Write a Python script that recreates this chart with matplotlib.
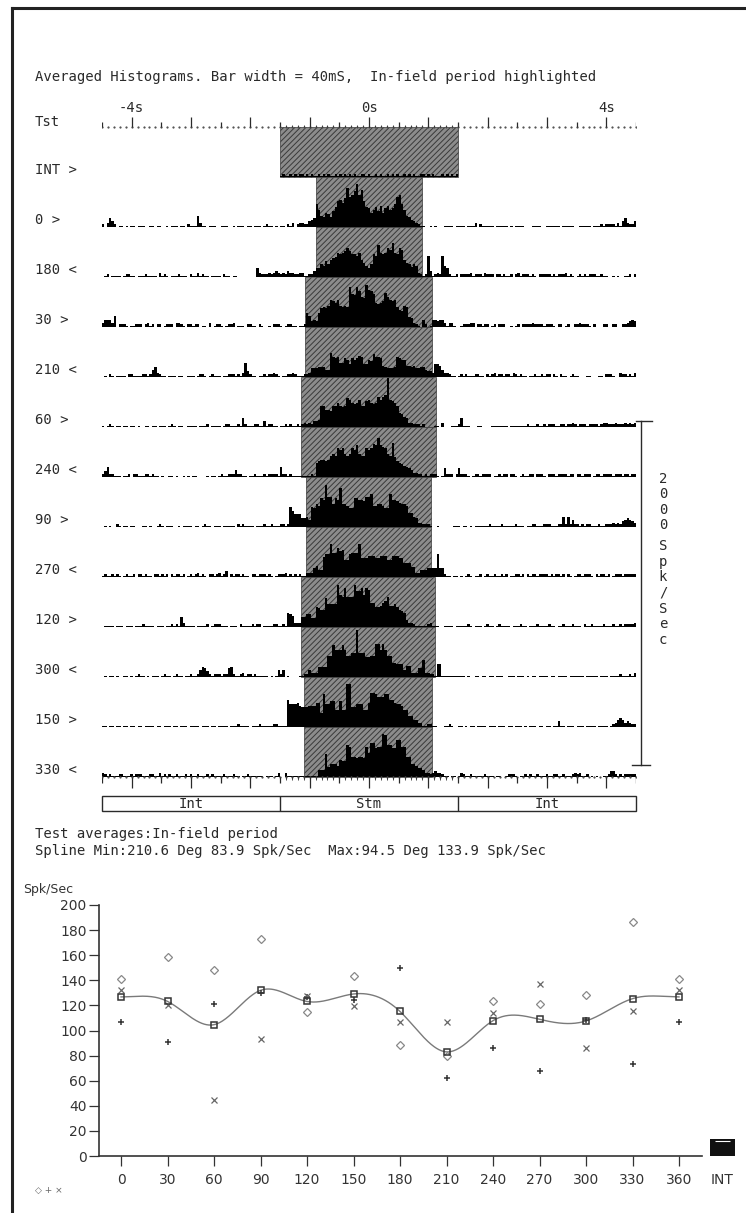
import numpy as np
import matplotlib
matplotlib.use('Agg')
import matplotlib.pyplot as plt
import matplotlib.transforms as mtransforms
from matplotlib.patches import Rectangle
from matplotlib.lines import Line2D

# ---- histogram data: one char per 40 ms bin (base 36 count), 1 count = 25/3 Spk/Sec
row_labels = ["INT >", "0 >", "180 <", "30 >", "210 <", "60 >", "240 <",
              "90 >", "270 <", "120 >", "300 <", "150 >", "330 <"]
win_start = [-1.5, -0.89, -0.89, -1.08, -1.08, -1.15, -1.15, -1.06, -1.06, -1.15, -1.15, -1.09, -1.09]
win_end = [1.5, 0.89, 0.89, 1.07, 1.07, 1.13, 1.13, 1.05, 1.05, 1.11, 1.11, 1.06, 1.06]

hist_int = ("0" * 75 +
            "1211212122" "1212112121" "2112121212" "1211221211" "2121121212"
            "1121212112" "2121211121" "21212" + "0" * 75)
hist_0 = ("2036420110" "1011011100" "1101100101" "1101102111" "8311011100"
          "1110010111" "0110111012" "1101011021" "3023322"
          "456gc87a97beijhkrlmpumqiedacebfadfcdglmgc87543211"
          "0010100011" "1101111011" "1302111110" "1111101011" "1100011110"
          "0111111011" "1110011111" "0111212222" "131463224")
hist_180 = ("0120111101" "2211011121" "1110312101" "1121110211" "3121101111"
            "0211011000" "0000063222" "3234323243" "32233"
            "112246698b" "9cdehghiki" "ggfhca869g" "fmhghkjohg" "kjca979832"
            "12f41232f8" "621120"
            "2222312221" "3222022121" "1202312221" "2102222212" "1222312101"
            "2121222112" "1100101001" "1202")
hist_30 = ("3555380222" "1011222023" "1202201222" "0332102212" "2011030122"
           "1012230111" "0221102100" "1022210122" "1101"
           "12a8454ade" "dfjihjfefe" "snmsplktqp" "nhghioljij" "ecbfe76321"
           "0520155455" "3133100"
           "1222330221" "2201202220" "0101202222" "3222212221" "0220120022"
           "3222102000" "2200220022" "3454")
hist_210 = ("0102101111" "0221111221" "2573211011" "1011001110" "1221012111"
            "0112221213" "a421101121" "2232101122" "3211122"
            "366677755h" "edeaadc9dc" "dfe99cbgee" "d876667edc" "c887866775"
            "4439985332" "1101"
            "2121112211" "0212312212" "2132121101" "1211212202" "1021101211"
            "0001100011" "0222100322" "1213")
hist_60 = ("1012101101" "1011010011" "0110111012" "1011001111" "0111201111"
           "0122111216" "2111221141" "2211011212" "112"
           "123232445f" "fccbffhfef" "kjhghjffij" "hghljlmyji" "hfa9763322"
           "2120000110" "3000111261" "1100"
           "0110000111" "1111011111" "1121112112" "1222112212" "2321222122"
           "2212332223" "22232323")
hist_240 = ("2472211101" "1202211122" "1211010011" "0100101011" "0000101101"
            "2112225221" "1011211121" "2222172212" "111"
            "1111121abc" "cbcfgfkjkg" "fgkjmgffkj" "knmrmlkgfo" "eba9876533"
            "2212122210" "1622202622" "2101"
            "2212222011" "2122022101" "2112202221" "0222122221" "2202212220"
            "1221222212" "22122122")
hist_90 = ("0101002101" "1011000110" "1001210111" "0010111101" "1012110111"
           "0111110212" "1111011121" "1211122"
           "12eb999667" "5edgfkjtll" "gkjrggfddk" "kjjillnffg" "gfddnjjihg"
           "gfaa763322" "2100100000" "0111"
           "0110101111" "1121111211" "1112111011" "2211122211" "1227272522"
           "1212211121" "1222323245" "6543")
hist_270 = ("1211212101" "2112022121" "1022121202" "1221201212" "3121022123"
            "1240212212" "1102212221" "2101222312" "1212"
            "113336855e" "ggnhhkijcc" "ghhhndddff" "fddfffccff" "fddaaa7733"
            "5556666g66" "2110110"
            "1012101120" "1211211212" "0112212021" "2212222121" "2212021012"
            "2122210212" "2120122212" "2222")
hist_120 = ("0111101110" "1110111211" "1101110112" "1217311110" "1111201222"
            "1110111021" "1112122011" "1122112"
            "1a98333779" "966edcckgg" "ggtmlrlllt" "pprmrqhhee" "fhilffgecb"
            "a533211111" "2311100111" "1011"
            "1112101110" "1211012111" "1011121101" "1121111211" "0112111211"
            "1021121111" "2111211212" "2223")
hist_300 = ("0101101001" "1010121101" "0111012110" "1211011211" "2576421222"
            "1226721123" "1221211111" "0101525010" "0001"
            "1225333777" "7ffmjjjmjf" "fhhxhhheef" "fnnjnjffaa" "9995883336"
            "6c33221991" "1111111"
            "1101001101" "1011011100" "1110111010" "1101111011" "0111101111"
            "1101111101" "1101111211" "1213")
hist_150 = ("1101101101" "1011011011" "1101101110" "1101110111" "1011101101"
            "1110111211" "1101112111" "112211"
            "11jggghfee" "efffhhangg" "iicciccuue" "egggcchoon" "lllnnjjhgg"
            "fcc8855331" "1221100011" "21001"
            "1010110111" "1011101110" "1101110101" "1101101101" "1411011101"
            "1101111011" "1101235653" "4322")
hist_330 = ("3212111221" "1121222111" "2211312121" "1211121211" "2111212111"
            "1211121101" "1211111101" "1101300311" "1111"
            "1111111555" "g79998cbbm" "leedeedlho" "okllutmmkk" "qqllee9986"
            "6533234332" "1101101"
            "3211211111" "2111011001" "2221011212" "1121112112" "2112111232"
            "3112010100" "1124421212" "2222")
hist_rows = [hist_int, hist_0, hist_180, hist_30, hist_210, hist_60, hist_240,
             hist_90, hist_270, hist_120, hist_300, hist_150, hist_330]

# ---- tuning data (Spk/Sec)
orient = [0, 30, 60, 90, 120, 150, 180, 210, 240, 270, 300, 330, 360]
diamond = [141.3, 158.3, 148.5, 173.2, 114.7, 143.2, 88.7, 80.0, 123.5, 121.4, 128.3, 186.7, 141.3]
plus = [107.0, 90.6, 121.0, 129.6, 127.0, 124.3, 149.8, 62.4, 85.8, 68.0, 108.7, 73.6, 107.0]
cross = [132.0, 120.7, 44.4, 93.2, 127.7, 119.8, 107.0, 106.5, 114.2, 137.3, 85.8, 115.8, 132.0]
int_rate = 13.5
y_ticks = [0, 20, 40, 60, 80, 100, 120, 140, 160, 180, 200]

plt.rcParams['hatch.linewidth'] = 0.7
plt.rcParams['hatch.color'] = '#3a3a3a'

W, H = 746, 1213
fig = plt.figure(figsize=(W / 100, H / 100), dpi=100)
mono = 'DejaVu Sans Mono'
ink = '#2a2a2a'


def rect(x0, y0, x1, y1):
    return [x0 / W, 1 - y1 / H, (x1 - x0) / W, (y1 - y0) / H]


# frame
fig.add_artist(Line2D([12 / W, 12 / W], [0, 1 - 8 / H], color='#222222', lw=2.2))
fig.add_artist(Line2D([12 / W, 1], [1 - 8 / H, 1 - 8 / H], color='#222222', lw=2.2))

fig.text(35 / W, 1 - 77 / H, "Averaged Histograms. Bar width = 40mS,  In-field period highlighted",
         family=mono, fontsize=10, va='center', color=ink)

# ---- histogram panel: y in Spk/Sec, 344 px = 2000 Spk/Sec
PX = 2000 / 344
ROW_GAP = 50 * PX
ax = fig.add_axes(rect(102, 100, 636, 820))
ax.set_xlim(-4.5, 4.5)
ax.set_ylim(-43 * PX, 677 * PX)
ax.axis('off')
blend = mtransforms.blended_transform_factory(fig.transFigure, ax.transData)

n_rows = len(hist_rows)
edges = -4.5 + 0.04 * np.arange(226)
for j, s in enumerate(hist_rows):
    s = s.ljust(225, '0')[:225]
    base = (n_rows - 1 - j) * ROW_GAP
    vals = np.array([int(ch, 36) for ch in s]) * 25 / 3
    ax.add_patch(Rectangle((win_start[j], base), win_end[j] - win_start[j], ROW_GAP,
                           facecolor='#8c8c8c', edgecolor='#3a3a3a', hatch='//////',
                           lw=0.5, zorder=1))
    ax.stairs(base + vals, edges, baseline=base, fill=True, color='black', lw=0, zorder=2)
    ax.text(35 / W, base + 7 * PX, row_labels[j], transform=blend, family=mono,
            fontsize=10, va='center', color=ink)

# top time axis
y_top = n_rows * ROW_GAP
ax.text(35 / W, y_top + 5 * PX, "Tst", transform=blend, family=mono, fontsize=10,
        va='center', color=ink)
dots = np.arange(-45, 46) / 10
ax.plot(dots, np.full(dots.size, y_top), ls='none', marker='s', ms=0.6, color='#555555')
major = np.arange(-4, 5)
minor = np.arange(-4.5, 4.6, 1.0)
ax.vlines(major, y_top, y_top + 10 * PX, color=ink, lw=0.9)
ax.vlines(minor, y_top, y_top + 5 * PX, color=ink, lw=0.9)
fine = np.arange(-14, 15) / 10
ax.vlines(fine, y_top, y_top + 2.5 * PX, color=ink, lw=0.6)
for t, lab in [(-4, "-4s"), (0, "0s"), (4, "4s")]:
    ax.text(t, y_top + 19 * PX, lab, ha='center', va='center', family=mono,
            fontsize=10, color=ink)

# bottom time axis
ax.plot(dots, np.zeros(dots.size), ls='none', marker='s', ms=0.6, color='#555555')
ax.vlines(major, 0, -11 * PX, color=ink, lw=0.9)
ax.vlines(minor, 0, -6 * PX, color=ink, lw=0.9)
ax.vlines(fine, 0, -3 * PX, color=ink, lw=0.6)
box_top, box_bot = -19 * PX, -34 * PX
ax.add_patch(Rectangle((-4.5, box_bot), 9, box_top - box_bot, fill=False,
                       edgecolor=ink, lw=1, clip_on=False))
ax.vlines([-1.5, 1.5], box_bot, box_top, color=ink, lw=1)
for t, lab in [(-3, "Int"), (0, "Stm"), (3, "Int")]:
    ax.text(t, (box_top + box_bot) / 2, lab, ha='center', va='center', family=mono,
            fontsize=10, color=ink)

# scale bar 2000 Spk/Sec
sb_x, sb_y0 = 4.585, 12 * PX
ax.plot([sb_x, sb_x], [sb_y0, sb_y0 + 2000], color=ink, lw=1, clip_on=False)
ax.plot([4.5, 4.77], [sb_y0 + 2000] * 2, color=ink, lw=1, clip_on=False)
ax.plot([4.44, 4.73], [sb_y0] * 2, color=ink, lw=1, clip_on=False)
ax.text(663 / W, sb_y0 + 2000 - 81 * PX, "2\n0\n0\n0", transform=blend, family=mono,
        fontsize=10, ha='center', va='center', linespacing=1.15, color=ink)
ax.text(663 / W, sb_y0 + 2000 - 172 * PX, "S\np\nk\n/\nS\ne\nc", transform=blend,
        family=mono, fontsize=10, ha='center', va='center', linespacing=1.15,
        color=ink)

fig.text(35 / W, 1 - 834 / H, "Test averages:In-field period", family=mono,
         fontsize=10, va='center', color=ink)
fig.text(35 / W, 1 - 851 / H, "Spline Min:210.6 Deg 83.9 Spk/Sec  Max:94.5 Deg 133.9 Spk/Sec",
         family=mono, fontsize=10, va='center', color=ink)

# ---- tuning curve panel
deg_px = 360 / 558
ax2 = fig.add_axes(rect(99, 905, 740, 1156))
x_lo = (99 - 121) * deg_px
ax2.set_xlim(x_lo, (740 - 121) * deg_px)
ax2.set_ylim(0, 200)
for side in ['top', 'right']:
    ax2.spines[side].set_visible(False)
ax2.spines['left'].set_bounds(0, 200)
ax2.spines['bottom'].set_bounds(x_lo, (702 - 121) * deg_px)
for side in ['left', 'bottom']:
    ax2.spines[side].set_color('#333333')
    ax2.spines[side].set_linewidth(1.2)
ax2.set_yticks(y_ticks)
ax2.set_xticks(orient[:-1] + [360, 388])
ax2.set_xticklabels([str(o) for o in orient] + ['INT'])
ax2.tick_params(axis='y', length=7, width=0.9, pad=2, labelsize=10, colors='#333333')
ax2.tick_params(axis='x', length=7, width=0.9, pad=5, labelsize=10, colors='#333333')
ax2.xaxis.get_major_ticks()[-1].tick1line.set_visible(False)

d = np.array(diamond)
p = np.array(plus)
c = np.array(cross)
means = (d + p + c) / 3


def periodic_spline(yk, period, xs):
    n = len(yk)
    h = period / n
    A = np.zeros((n, n))
    rhs = np.zeros(n)
    for i in range(n):
        A[i, i] = 4
        A[i, (i - 1) % n] = 1
        A[i, (i + 1) % n] = 1
        rhs[i] = 6 / h ** 2 * (yk[(i + 1) % n] - 2 * yk[i] + yk[(i - 1) % n])
    M = np.linalg.solve(A, rhs)
    i = np.minimum((xs // h).astype(int), n - 1)
    a = xs - i * h
    b = h - a
    y0, y1 = yk[i], yk[(i + 1) % n]
    m0, m1 = M[i], M[(i + 1) % n]
    return m0 * b ** 3 / (6 * h) + m1 * a ** 3 / (6 * h) + (y0 / h - m0 * h / 6) * b + (y1 / h - m1 * h / 6) * a


xs = np.linspace(0, 360, 721)
ax2.plot(xs, periodic_spline(means[:-1], 360, xs), color='#7a7a7a', lw=1)
ax2.plot(orient, d, ls='none', marker='D', ms=3.8, mfc='none', mec='#888888', mew=0.9)
ax2.plot(orient, p, ls='none', marker='+', ms=5, mec='#333333', mew=1.1)
ax2.plot(orient, c, ls='none', marker='x', ms=4.5, mec='#666666', mew=0.9)
ax2.plot(orient, means, ls='none', marker='s', ms=5, mfc='none', mec='#333333', mew=1.1)
ax2.bar([388], [int_rate], width=16, color='#111111')
ax2.hlines(int_rate - 1.3, 383, 393, color='white', lw=0.8)

fig.text(48 / W, 1 - 890 / H, "Spk/Sec", fontsize=9, ha='center', va='center', color='#333333')
fig.text(35 / W, 1 - 1190 / H, "\u25c7 + \u00d7", fontsize=6.5, va='center', color='#666666')

fig.savefig('out.png', dpi=100)
